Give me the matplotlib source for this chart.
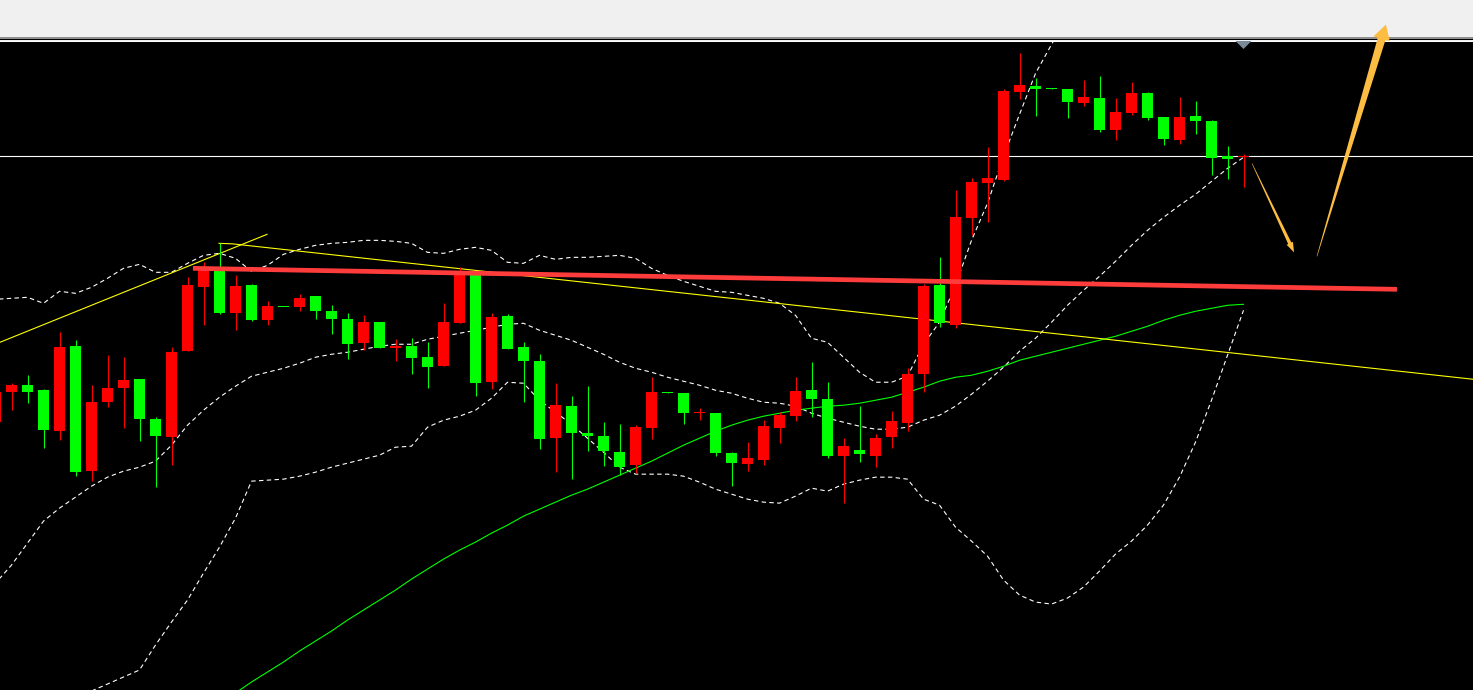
import numpy as np
import matplotlib
matplotlib.use("Agg")
import matplotlib.pyplot as plt
from matplotlib.patches import Polygon, Rectangle
from matplotlib.transforms import IdentityTransform

# ---------------- data (price units, no axis labels on the original) ----------------
bar_index = list(range(-1, 78))

open_ = [278, 308, 315, 310, 269, 354, 229, 298, 312, 321,
         281, 263, 349, 413, 430, 387, 415, 380, 393.5, 393,
         404, 389, 381, 357, 378, 352, 354, 343, 334, 377,
         426, 318, 384, 353, 339, 262, 294, 267, 264, 248,
         235, 272, 308, 307, 287, 287, 247, 236, 240, 272,
         284, 310, 301, 244, 250, 244, 263, 277, 326, 415,
         375, 482, 517, 520, 608, 614, 612, 611, 597, 602,
         570, 587, 607, 583, 560, 584, 579, 544, 543]
close = [308, 315, 308, 270, 353, 228, 298, 312, 320, 281,
         264, 348, 415, 430, 387, 414, 380, 394, 393, 402,
         389, 381, 356, 378, 352, 354, 342, 333, 378, 425,
         317, 383, 351, 339, 261, 295, 267, 264, 249, 233,
         273, 308, 307.5, 287, 287.5, 247, 237, 242, 274, 285,
         309, 301, 244, 254, 246, 262, 279, 326, 414, 377,
         483, 518, 522, 609, 615, 611, 611.5, 598, 603, 570,
         588, 607, 582, 561, 583, 579, 542, 541, 543.5]
high = [314, 317, 325, 311, 368, 360, 315, 345, 343, 321,
        283, 353, 423, 438, 457, 425, 416, 399, 393.5, 406,
        404, 395, 387, 385, 378, 361, 362, 358, 397, 433,
        426, 387, 386, 358, 346, 317, 304, 314, 278, 276,
        275, 323, 308, 307, 292, 287, 248, 258, 280, 288,
        323, 338, 318, 262, 294, 266, 289, 332, 416, 443,
        510, 522, 553, 611, 647, 622, 612, 611, 620, 624,
        602, 618, 608, 583, 603, 599, 580, 554, 546]
low = [276, 290, 297, 252, 260, 224, 219, 293, 272, 259,
       213, 235, 349, 375, 386, 370, 379, 375, 393, 389,
       381, 366, 341, 350, 352, 339, 326, 312, 334, 377,
       304, 311, 351, 298, 251, 228, 221, 249, 234, 225,
       227, 261, 307.5, 276, 280, 244, 214, 229, 235, 257,
       279, 283, 242, 197, 238, 233, 252, 269, 308, 373,
       372, 465, 478, 519, 601, 584, 611.5, 582, 594, 568,
       560, 585, 580, 555, 556, 566, 525, 521, 513]

# moving average (green), bars 14..77
ma_index = list(range(14, 78))
ma_values = [7, 18, 28, 38, 49, 59, 69, 80, 90, 100,
             110, 121, 131, 141, 150, 158, 167, 175, 184, 191,
             198, 205, 211, 218, 225, 232, 239, 247, 255, 262,
             269, 275, 280, 284, 287, 290, 292, 294, 295, 297,
             300, 303, 308, 313, 319, 323, 325, 329, 334, 340,
             344, 348, 352, 356, 360, 364, 369, 374, 380, 385,
             389, 392, 395, 396]

# Bollinger bands (white dotted)
bb_upper_index = list(range(-1, 67))
bb_upper = [401, 402, 403, 397, 409, 407, 413, 422, 432, 436,
            428, 428, 437, 445, 447, 442, 429, 435, 446, 451,
            455, 457, 458, 460, 460, 459, 457, 448, 447, 451,
            453, 450, 438, 437, 445, 441, 443, 443, 444, 445,
            442, 432, 425, 419, 414, 409, 408, 405, 402, 397,
            385, 362, 358, 343, 328, 318, 318, 324, 356, 378,
            415, 460, 497, 544, 586, 627, 656, 685]
bb_mid_index = list(range(-1, 78))
bb_mid = [117, 135, 157, 179, 192, 203, 214, 223, 229, 233,
          239, 255, 275, 290, 303, 314, 324, 328, 332, 337,
          343, 346, 348, 351, 354, 356, 356, 361, 364, 367,
          370, 373, 376, 377, 370, 365, 360, 353, 346, 338,
          332, 328, 323, 319, 315, 310, 307, 302, 298, 297,
          294, 287, 282, 278, 274, 271, 271, 273, 280, 285,
          294, 306, 319, 333, 349, 362, 378, 395, 410, 424,
          439, 455, 470, 483, 495, 506, 519, 532, 543]
bb_lower_index = list(range(5, 78))
bb_lower = [9, 16, 23, 30, 55, 78, 100, 127, 153, 182,
            219, 220, 221, 224, 228, 233, 237, 241, 245, 253,
            254, 273, 280, 284, 290, 302, 318, 317, 300, 288,
            276, 262, 248, 233, 226, 226, 226, 224, 218, 211,
            206, 201, 198, 197, 204, 212, 209, 216, 220, 223,
            223, 221, 201, 195, 173, 159, 144, 120, 105, 98,
            96, 102, 113, 129, 146, 159, 175, 195, 223, 258,
            300, 345, 390]

# drawn objects (bar index, price)
resistance_x = [11.34, 86.59]
resistance_y = [432, 411]
yellow_up_x = [-0.72, 15.97]
yellow_up_y = [358, 466]
yellow_down_x = [12.97, 13.8, 91.34]
yellow_down_y = [457, 456.5, 321]
current_price = 544
arrow_down = ((77.53, 537), (80.16, 448))
arrow_up = ((81.59, 444), (85.9, 676))

# ---------------- figure ----------------
W, H = 1473, 690
fig = plt.figure(figsize=(W / 100, H / 100), dpi=100, facecolor='#f0f0f0')
top_px = 40.5
ax = fig.add_axes([0, 0, 1, (H - top_px) / H])
ax.set_facecolor('black')
ax.set_xlim(-0.71875, 91.34375)
ax.set_ylim(10, 660)
ax.set_xticks([])
ax.set_yticks([])
for side in ('left', 'right', 'bottom'):
    ax.spines[side].set_visible(False)
ax.spines['top'].set_color('white')
ax.spines['top'].set_linewidth(0.75)

# header separator
fig.patches.append(Rectangle((0, (H - 39) / H), 1, 2.2 / H, transform=fig.transFigure,
                             facecolor='#8f8f8f', edgecolor='none'))
fig.patches.append(Rectangle((0, (H - 40) / H), 1, 1.0 / H, transform=fig.transFigure,
                             facecolor='black', edgecolor='none'))

x = np.array(bar_index, dtype=float)
o = np.array(open_, dtype=float)
c = np.array(close, dtype=float)
hi = np.array(high, dtype=float)
lo = np.array(low, dtype=float)
colors = np.where(c >= o, '#ff0000', '#00ff00')

# indicator lines
dots = (0, (4, 3))
ax.plot(bb_upper_index, bb_upper, color='white', lw=0.8, ls=dots, zorder=2)
ax.plot(bb_mid_index, bb_mid, color='white', lw=0.8, ls=dots, zorder=2)
ax.plot(bb_lower_index, bb_lower, color='white', lw=0.8, ls=dots, zorder=2)
ax.plot(ma_index, ma_values, color='#00ff00', lw=0.8, zorder=2)
ax.plot(yellow_up_x, yellow_up_y, color='#ffff00', lw=0.8, zorder=2)
ax.plot(yellow_down_x, yellow_down_y, color='#ffff00', lw=0.8, zorder=2)
ax.axhline(current_price, color='white', lw=0.8, zorder=2)

# candles
ax.vlines(x, lo, hi, colors=colors, lw=0.8, zorder=3)
body_h = np.maximum(np.abs(c - o), 1.2)
ax.bar(x, body_h, bottom=np.minimum(o, c), width=11 / 16, color=colors,
       linewidth=0, zorder=4)

# resistance line
ax.plot(resistance_x, resistance_y, color='#ff3c3c', lw=3.4, solid_capstyle='butt', zorder=5)

# current bar marker on the top edge
last = bar_index[-1]
ax.add_patch(Polygon([(last - 0.5, 659.5), (last + 0.5, 659.5), (last, 651.5)],
                     closed=True, facecolor='#7b8a99', edgecolor='none', zorder=6,
                     clip_on=False))


def tapered_arrow(start, tip, w0, w1, hw, hl, color):
    S = ax.transData.transform(start)
    T = ax.transData.transform(tip)
    d = T - S
    u = d / np.hypot(*d)
    n = np.array([-u[1], u[0]])
    B = T - u * hl
    pts = [S + n * w0 / 2, B + n * w1 / 2, B + n * hw / 2, T,
           B - n * hw / 2, B - n * w1 / 2, S - n * w0 / 2]
    poly = Polygon(pts, closed=True, transform=IdentityTransform(),
                   facecolor=color, edgecolor='none', zorder=10, clip_on=False)
    fig.add_artist(poly)


tapered_arrow(arrow_down[0], arrow_down[1], 0.5, 3.5, 7, 10, '#fdbd42')
tapered_arrow(arrow_up[0], arrow_up[1], 0.5, 8, 17, 15, '#fdbd42')

fig.savefig('out.png', dpi=100, facecolor=fig.get_facecolor())
